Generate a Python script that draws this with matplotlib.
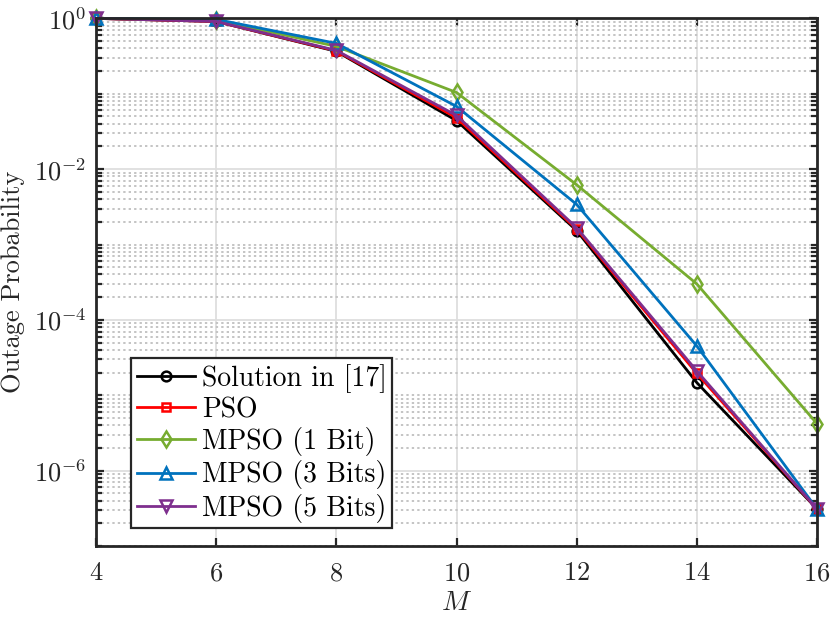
import matplotlib
matplotlib.use("Agg")
import matplotlib.pyplot as plt
from matplotlib.ticker import LogLocator, NullFormatter, FixedLocator

plt.rcParams['font.family'] = 'serif'
plt.rcParams['font.serif'] = ['cmr10']
plt.rcParams['mathtext.fontset'] = 'cm'
plt.rcParams['axes.unicode_minus'] = False
plt.rcParams['axes.formatter.use_mathtext'] = True

M = [4, 6, 8, 10, 12, 14, 16]
sol17 = [1.0, 0.91, 0.365, 0.044, 1.53e-3, 1.47e-5, 3.1e-7]
pso = [1.0, 0.91, 0.37, 0.048, 1.6e-3, 1.95e-5, 3.1e-7]
mpso1 = [1.0, 0.95, 0.425, 0.104, 6.2e-3, 3.0e-4, 4.2e-6]
mpso3 = [1.0, 0.97, 0.466, 0.068, 3.4e-3, 4.5e-5, 3.1e-7]
mpso5 = [1.0, 0.91, 0.376, 0.0515, 1.67e-3, 2.1e-5, 3.1e-7]
labels = ["Solution in [17]", "PSO", "MPSO (1 Bit)", "MPSO (3 Bits)", "MPSO (5 Bits)"]

series = [sol17, pso, mpso1, mpso3, mpso5]
colors = ["k", "#ff0000", "#77ac30", "#0072bd", "#7e2f8e"]
markers = ["o", "s", "d", "^", "v"]
msizes = [7, 6, 8, 9, 9]

fig = plt.figure(figsize=(8.3, 6.23), dpi=100)
ax = fig.add_axes([0.1157, 0.1236, 0.8686, 0.8469])

for ys, c, mk, ms, lab in zip(series, colors, markers, msizes, labels):
    ax.plot(M, ys, color=c, marker=mk, markersize=ms, markerfacecolor="none",
            markeredgewidth=1.8, linewidth=2.0, label=lab, clip_on=False, zorder=3)

ax.set_yscale("log")
ax.set_xlim(4, 16)
ax.set_ylim(1e-7, 1)
ax.xaxis.set_major_locator(FixedLocator(M))
ax.yaxis.set_major_locator(FixedLocator([1e-6, 1e-4, 1e-2, 1]))
ax.yaxis.set_minor_locator(LogLocator(base=10, subs=[1, 2, 3, 4, 5, 6, 7, 8, 9], numticks=20))
ax.yaxis.set_minor_formatter(NullFormatter())

ax.grid(True, which="major", axis="both", color="#dedede", linewidth=1.3, linestyle="-")
ax.grid(True, which="minor", axis="y", color="#c4c4c4", linewidth=1.4, linestyle=(0, (1.2, 1.6)))
ax.set_axisbelow(True)

ax.tick_params(which="both", direction="in", top=True, right=True, colors="#262626",
               labelsize=19, width=1.6)
ax.tick_params(axis="x", pad=11)
ax.tick_params(axis="y", pad=7)
ax.tick_params(which="major", length=6)
ax.tick_params(which="minor", length=4)
for sp in ax.spines.values():
    sp.set_linewidth(2.0)
    sp.set_color("#262626")
    sp.set_zorder(4)

ax.set_xlabel(r"$M$", fontsize=20, color="#262626", labelpad=3)
ax.set_ylabel("Outage Probability", fontsize=19, color="#262626", labelpad=6)

leg = ax.legend(loc="lower left", bbox_to_anchor=(0.0485, 0.034), borderaxespad=0,
                fontsize=20, frameon=True, fancybox=False, framealpha=1,
                edgecolor="#262626", handlelength=2.1, handletextpad=0.25,
                labelspacing=0.15, borderpad=0.2)
leg.get_frame().set_linewidth(1.6)
leg.set_zorder(5)

fig.savefig("out.png", dpi=100)
